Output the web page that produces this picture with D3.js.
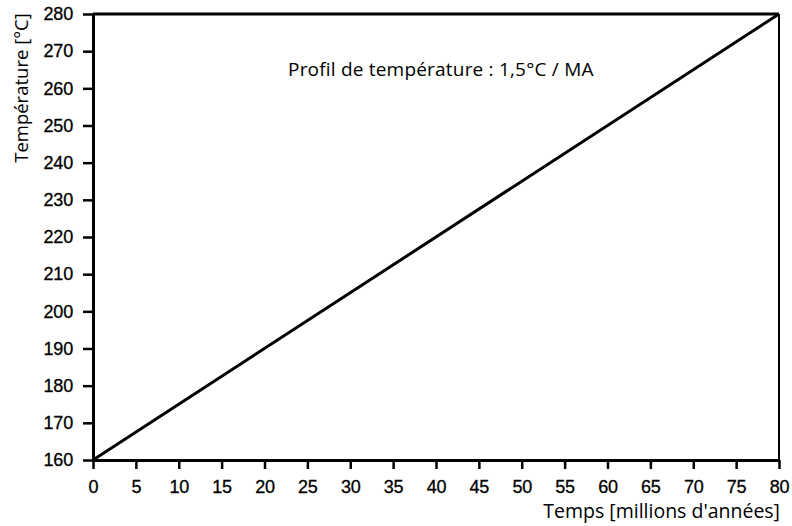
<!DOCTYPE html>
<html>
<head>
<meta charset="utf-8">
<script src="https://cdn.jsdelivr.net/npm/d3@7"></script>
<style>
  html, body { margin: 0; padding: 0; background: #fff; }
  svg { display: block; }
</style>
</head>
<body>
<svg id="chart" width="792" height="526"></svg>
<script>
// Temperature profile: 1.5 °C per million years
const timeMa = [0, 80];
const temperatureC = [160, 280];
const xTicks = d3.range(0, 81, 5);
const yTicks = d3.range(160, 281, 10);
const titleText = "Profil de température : 1,5°C / MA";
const xLabel = "Temps [millions d'années]";
const yLabel = "Température [°C]";

const svg = d3.select("#chart");
const margin = { left: 93, right: 13, top: 14, bottom: 66 };
const W = 792, H = 526;

const x = d3.scaleLinear().domain([0, 80]).range([margin.left, W - margin.right]);
const y = d3.scaleLinear().domain([160, 280]).range([H - margin.bottom, margin.top]);

const tickFont = "'Liberation Sans', Arial, sans-serif";
const textFont = "'Open Sans', 'Noto Sans', sans-serif";

// Frame: top and right edges
svg.append("line")
  .attr("x1", x(0)).attr("x2", x(80)).attr("y1", y(280)).attr("y2", y(280))
  .attr("stroke", "#000").attr("stroke-width", 3);
svg.append("line")
  .attr("x1", x(80)).attr("x2", x(80)).attr("y1", y(280)).attr("y2", y(160))
  .attr("stroke", "#000").attr("stroke-width", 2);

// Axes
const xAxis = svg.append("g")
  .attr("transform", `translate(0,${y(160)})`)
  .call(d3.axisBottom(x).tickValues(xTicks).tickSize(9).tickPadding(11).tickSizeOuter(0));
const yAxis = svg.append("g")
  .attr("transform", `translate(${x(0)},0)`)
  .call(d3.axisLeft(y).tickValues(yTicks).tickSize(10).tickPadding(10).tickSizeOuter(0));

[xAxis, yAxis].forEach(g => {
  g.attr("font-size", 18).attr("font-family", tickFont);
  g.select(".domain").attr("stroke", "#000").attr("stroke-width", 3);
  g.selectAll(".tick line").attr("stroke", "#000").attr("stroke-width", 2.5);
  g.selectAll(".tick text")
    .attr("fill", "#000")
    .attr("stroke", "#000")
    .attr("stroke-width", 0.3)
    .attr("letter-spacing", -0.2);
});

// Temperature line
const line = d3.line().x((d, i) => x(timeMa[i])).y(d => y(d));
svg.append("path")
  .datum(temperatureC)
  .attr("d", line)
  .attr("fill", "none")
  .attr("stroke", "#000")
  .attr("stroke-width", 3);

// Annotation
svg.append("text")
  .attr("x", 288).attr("y", 76)
  .attr("font-family", textFont)
  .attr("font-size", 19)
  .attr("letter-spacing", 0.2)
  .attr("fill", "#000")
  .text(titleText);

// Axis titles
svg.append("text")
  .attr("x", x(80) + 1).attr("y", 518)
  .attr("text-anchor", "end")
  .attr("font-family", textFont)
  .attr("font-size", 19.5)
  .attr("fill", "#000")
  .text(xLabel);

svg.append("text")
  .attr("transform", `translate(28,${88}) rotate(-90)`)
  .attr("text-anchor", "middle")
  .attr("font-family", textFont)
  .attr("font-size", 18.5)
  .attr("fill", "#000")
  .text(yLabel);
</script>
</body>
</html>
